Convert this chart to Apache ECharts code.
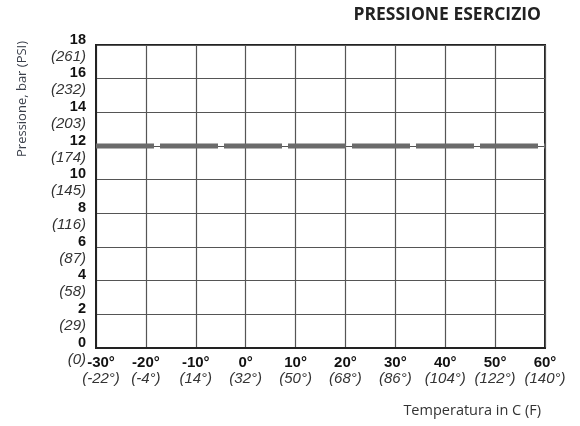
<!DOCTYPE html>
<html>
<head>
<meta charset="utf-8">
<script src="https://cdn.jsdelivr.net/npm/echarts@6/dist/echarts.min.js"></script>
<style>
  html, body { margin: 0; padding: 0; background: #fff; }
  #chart { width: 580px; height: 426px; }
</style>
</head>
<body>
<div id="chart"></div>
<script>
  // valori
  const tempC = [-30, -20, -10, 0, 10, 20, 30, 40, 50, 60]
  const tempF = [-22, -4, 14, 32, 50, 68, 86, 104, 122, 140]
  const pressureBar = [0, 2, 4, 6, 8, 10, 12, 14, 16, 18]
  const pressurePsi = [0, 29, 58, 87, 116, 145, 174, 203, 232, 261]
  const limitTemps = [-30, 60]
  const limitPressure = [12, 12]

  const chart = echarts.init(document.getElementById('chart'))

  const option = {
    animation: false,
    title: [
      {
        text: 'PRESSIONE ESERCIZIO',
        right: 34,
        top: 1,
        textStyle: { fontFamily: 'Open Sans', fontWeight: 'bold', fontSize: 17.5, color: '#222' },
      },
      {
        text: 'Temperatura in C (F)',
        right: 34,
        top: 398,
        textStyle: { fontFamily: 'Open Sans', fontWeight: 'normal', fontSize: 14.5, color: '#333' },
      },
    ],
    graphic: [
      {
        type: 'text',
        x: 16,
        y: 157,
        rotation: Math.PI / 2,
        style: {
          text: 'Pressione, bar (PSI)',
          fontFamily: 'Open Sans',
          fontSize: 13,
          fill: '#3a3f4a',
        },
      },
    ],
    grid: {
      left: 96,
      right: 35,
      top: 45,
      bottom: 78,
      show: true,
      borderColor: '#222',
      borderWidth: 2,
    },
    xAxis: {
      type: 'value',
      min: -30,
      max: 60,
      interval: 10,
      axisLine: { show: true, onZero: false, lineStyle: { color: '#222', width: 2 } },
      axisTick: { show: false },
      splitLine: { show: true, lineStyle: { color: '#555', width: 1.2 } },
      axisLabel: {
        margin: 7,
        showMinLabel: true,
        showMaxLabel: true,
        formatter: (v) => {
          const i = tempC.indexOf(v)
          const first = i === 0 ? 'c1' : 'c'
          const second = i === 0 ? 'f1' : 'f'
          return `{${first}|${v}°}\n{${second}|(${tempF[i]}°)}`
        },
        rich: {
          c: { fontFamily: 'Liberation Sans', fontWeight: 'bold', fontSize: 15, color: '#111', lineHeight: 16 },
          f: { fontFamily: 'Liberation Sans', fontStyle: 'italic', fontSize: 15, color: '#333', lineHeight: 16 },
          c1: { fontFamily: 'Liberation Sans', fontWeight: 'bold', fontSize: 15, color: '#111', lineHeight: 16, padding: [0, 0, 0, 10] },
          f1: { fontFamily: 'Liberation Sans', fontStyle: 'italic', fontSize: 15, color: '#333', lineHeight: 16, padding: [0, 0, 0, 10] },
        },
      },
    },
    yAxis: {
      type: 'value',
      min: 0,
      max: 18,
      interval: 2,
      axisLine: { show: true, onZero: false, lineStyle: { color: '#222', width: 2 } },
      axisTick: { show: false },
      splitLine: { show: true, lineStyle: { color: '#555', width: 1.2 } },
      axisLabel: {
        margin: 10,
        showMinLabel: true,
        showMaxLabel: true,
        padding: [6, 0, 0, 0],
        formatter: (v) => {
          const i = pressureBar.indexOf(v)
          return `{n|${v}}\n{p|(${pressurePsi[i]})}`
        },
        rich: {
          n: { fontFamily: 'Liberation Sans', fontWeight: 'bold', fontSize: 14.5, color: '#111', lineHeight: 17, align: 'right' },
          p: { fontFamily: 'Liberation Sans', fontStyle: 'italic', fontSize: 15, color: '#333', lineHeight: 17, align: 'right' },
        },
      },
    },
    series: [
      {
        type: 'line',
        data: limitTemps.map((t, i) => [t, limitPressure[i]]),
        showSymbol: false,
        lineStyle: { color: '#6b6b6b', width: 5, type: [58, 6], cap: 'butt' },
      },
    ],
  }

  chart.setOption(option)
</script>
</body>
</html>
